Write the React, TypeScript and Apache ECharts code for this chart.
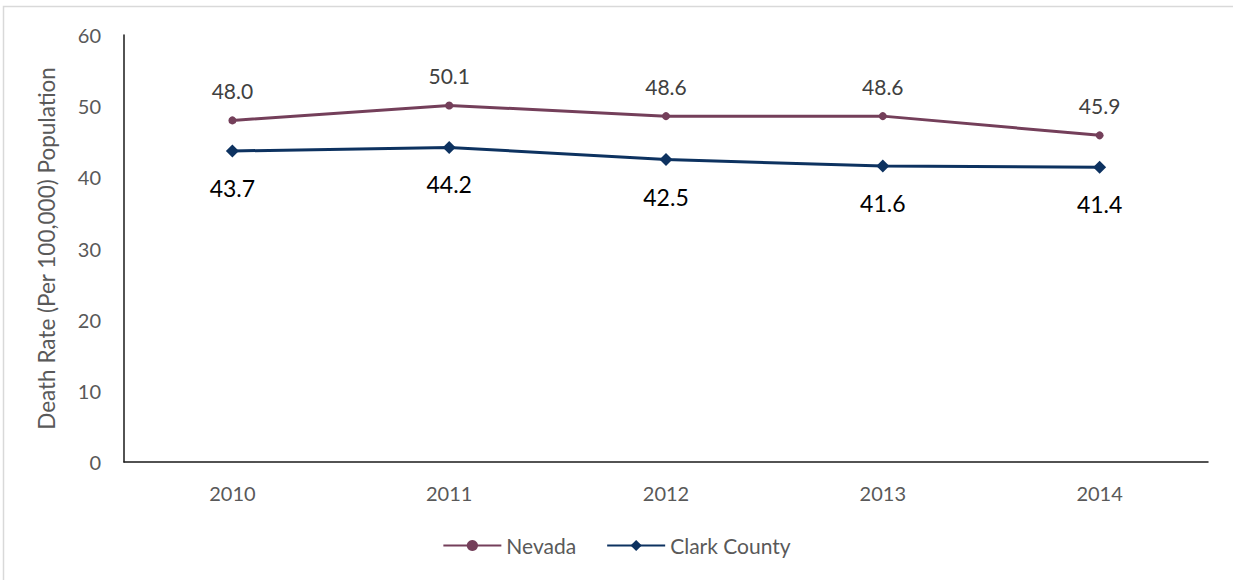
import React, { useEffect, useRef } from "react";
import * as echarts from "echarts";

const years = ["2010", "2011", "2012", "2013", "2014"];
const nevada = [48.0, 50.1, 48.6, 48.6, 45.9];
const clark = [43.7, 44.2, 42.5, 41.6, 41.4];
const yTicks = { min: 0, max: 60, interval: 10 };

const FONT = "Lato, 'Open Sans', sans-serif";

export default function App() {
  const ref = useRef<HTMLDivElement>(null);
  useEffect(() => {
    if (!ref.current) return;
    const chart = echarts.init(ref.current, null, { renderer: "svg" });
    chart.setOption({
      animation: false,
      backgroundColor: "#ffffff",
      textStyle: { fontFamily: FONT },
      graphic: [
        {
          type: "rect",
          shape: { x: 3.5, y: 6.5, width: 1260, height: 620 },
          style: { fill: "none", stroke: "#d9d9d9", lineWidth: 1.5 },
          silent: true,
        },
      ],
      grid: { left: 124, right: 25, top: 35, bottom: 118, containLabel: false },
      legend: {
        bottom: 19,
        left: "center",
        itemWidth: 58,
        itemHeight: 14,
        itemGap: 30,
        textStyle: { fontFamily: FONT, fontSize: 21, color: "#595959" },
        data: [
          { name: "Nevada", itemStyle: { borderWidth: 0 } },
          { name: "Clark County" },
        ],
      },
      xAxis: {
        type: "category",
        data: years,
        boundaryGap: true,
        axisLine: { lineStyle: { color: "#1a1a1a", width: 1.5 } },
        axisTick: { show: false },
        axisLabel: { fontFamily: FONT, fontSize: 20, color: "#595959", margin: 21 },
      },
      yAxis: {
        type: "value",
        min: yTicks.min,
        max: yTicks.max,
        interval: yTicks.interval,
        name: "Death Rate (Per 100,000) Population",
        nameLocation: "middle",
        nameGap: 66,
        nameTextStyle: { fontFamily: FONT, fontSize: 22.5, color: "#595959" },
        axisLine: { show: true, lineStyle: { color: "#1a1a1a", width: 1.5 } },
        axisTick: { show: false },
        splitLine: { show: false },
        axisLabel: { fontFamily: FONT, fontSize: 20, color: "#595959", margin: 23 },
      },
      series: [
        {
          name: "Nevada",
          type: "line",
          data: nevada,
          symbol: "circle",
          symbolSize: 8,
          itemStyle: { color: "#743f5a" },
          lineStyle: { color: "#743f5a", width: 3 },
          label: {
            show: true,
            position: "top",
            distance: 15,
            formatter: (p: any) => p.value.toFixed(1),
            fontFamily: FONT,
            fontSize: 21,
            color: "#404040",
          },
        },
        {
          name: "Clark County",
          type: "line",
          data: clark,
          symbol: "diamond",
          symbolSize: 13,
          itemStyle: { color: "#0d3260" },
          lineStyle: { color: "#0d3260", width: 3 },
          label: {
            show: true,
            position: "bottom",
            distance: 19,
            formatter: (p: any) => p.value.toFixed(1),
            fontFamily: FONT,
            fontSize: 23,
            color: "#000000",
          },
        },
      ],
    });
    return () => chart.dispose();
  }, []);
  return (
    <div
      ref={ref}
      style={{ position: "absolute", left: 0, top: 0, width: 1233, height: 580 }}
    />
  );
}
